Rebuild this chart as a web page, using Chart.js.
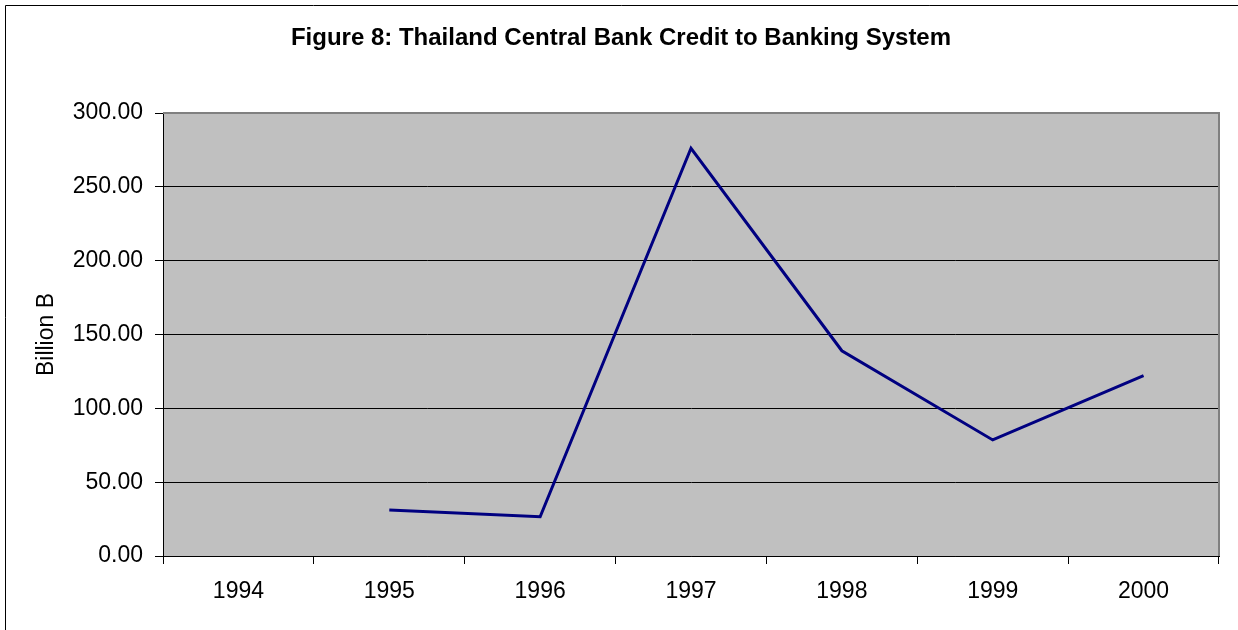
<!DOCTYPE html>
<html>
<head>
<meta charset="utf-8">
<script src="https://cdn.jsdelivr.net/npm/chart.js@4/dist/chart.umd.min.js"></script>
<style>
  html, body { margin: 0; padding: 0; background: #ffffff; }
  #wrap { width: 1238px; height: 630px; position: relative; }
</style>
</head>
<body>
<div id="wrap"><canvas id="c" width="1238" height="630"></canvas></div>
<script>
const categories = ["1994", "1995", "1996", "1997", "1998", "1999", "2000"];
const creditValues = [null, 31.2, 26.6, 276.1, 139.0, 78.6, 122.1];
const yTicks = [0, 50, 100, 150, 200, 250, 300];
const chartTitle = "Figure 8: Thailand Central Bank Credit to Banking System";
const yAxisLabel = "Billion B";

const FONT = "'Liberation Sans', Arial, sans-serif";

const decorPlugin = {
  id: 'decor',
  beforeDraw(chart) {
    const ctx = chart.ctx;
    const a = chart.chartArea;
    ctx.save();
    ctx.strokeStyle = '#000000';
    ctx.lineWidth = 1;
    ctx.beginPath();
    ctx.moveTo(5.5, chart.height);
    ctx.lineTo(5.5, 5.5);
    ctx.lineTo(chart.width, 5.5);
    ctx.stroke();
    ctx.fillStyle = '#C0C0C0';
    ctx.fillRect(a.left, a.top, a.right - a.left, a.bottom - a.top);
    ctx.restore();
  },
  afterDatasetsDraw(chart) {
    const ctx = chart.ctx;
    const a = chart.chartArea;
    ctx.save();
    ctx.strokeStyle = '#808080';
    ctx.lineWidth = 2;
    ctx.beginPath();
    ctx.moveTo(a.left, a.top);
    ctx.lineTo(a.right, a.top);
    ctx.lineTo(a.right, a.bottom);
    ctx.stroke();
    ctx.restore();
  }
};

new Chart(document.getElementById('c'), {
  type: 'line',
  data: {
    labels: categories,
    datasets: [{
      label: 'Credit',
      data: creditValues,
      borderColor: '#000080',
      borderWidth: 3,
      pointRadius: 0,
      tension: 0,
      spanGaps: false
    }]
  },
  options: {
    responsive: false,
    animation: false,
    devicePixelRatio: 1,
    layout: { padding: { left: 23, right: 19, top: 0, bottom: 0 } },
    plugins: {
      legend: { display: false },
      tooltip: { enabled: false },
      title: {
        display: true,
        text: chartTitle,
        color: '#000000',
        font: { family: FONT, size: 24, weight: 'bold', lineHeight: 1.2 },
        padding: { top: 24, bottom: 60.2 }
      }
    },
    scales: {
      x: {
        offset: true,
        grid: {
          offset: true,
          drawOnChartArea: false,
          color: '#000000',
          lineWidth: 1,
          tickLength: 8
        },
        border: { color: '#000000', width: 1 },
        ticks: {
          color: '#000000',
          font: { family: FONT, size: 23 },
          padding: 14,
          maxRotation: 0,
          autoSkip: false
        },
        afterFit(scale) { scale.height = 74; }
      },
      y: {
        min: 0,
        max: 300,
        afterBuildTicks(scale) { scale.ticks = yTicks.map(v => ({ value: v })); },
        grid: {
          color: '#000000',
          lineWidth: 1,
          tickLength: 8
        },
        border: { color: '#000000', width: 1 },
        ticks: {
          color: '#000000',
          font: { family: FONT, size: 23 },
          padding: 12,
          callback: (v) => Number(v).toFixed(2)
        },
        title: {
          display: true,
          text: yAxisLabel,
          color: '#000000',
          font: { family: FONT, size: 23 },
          padding: { top: 10, bottom: 0 }
        },
        afterFit(scale) { scale.width = 140; }
      }
    }
  },
  plugins: [decorPlugin]
});
</script>
</body>
</html>
